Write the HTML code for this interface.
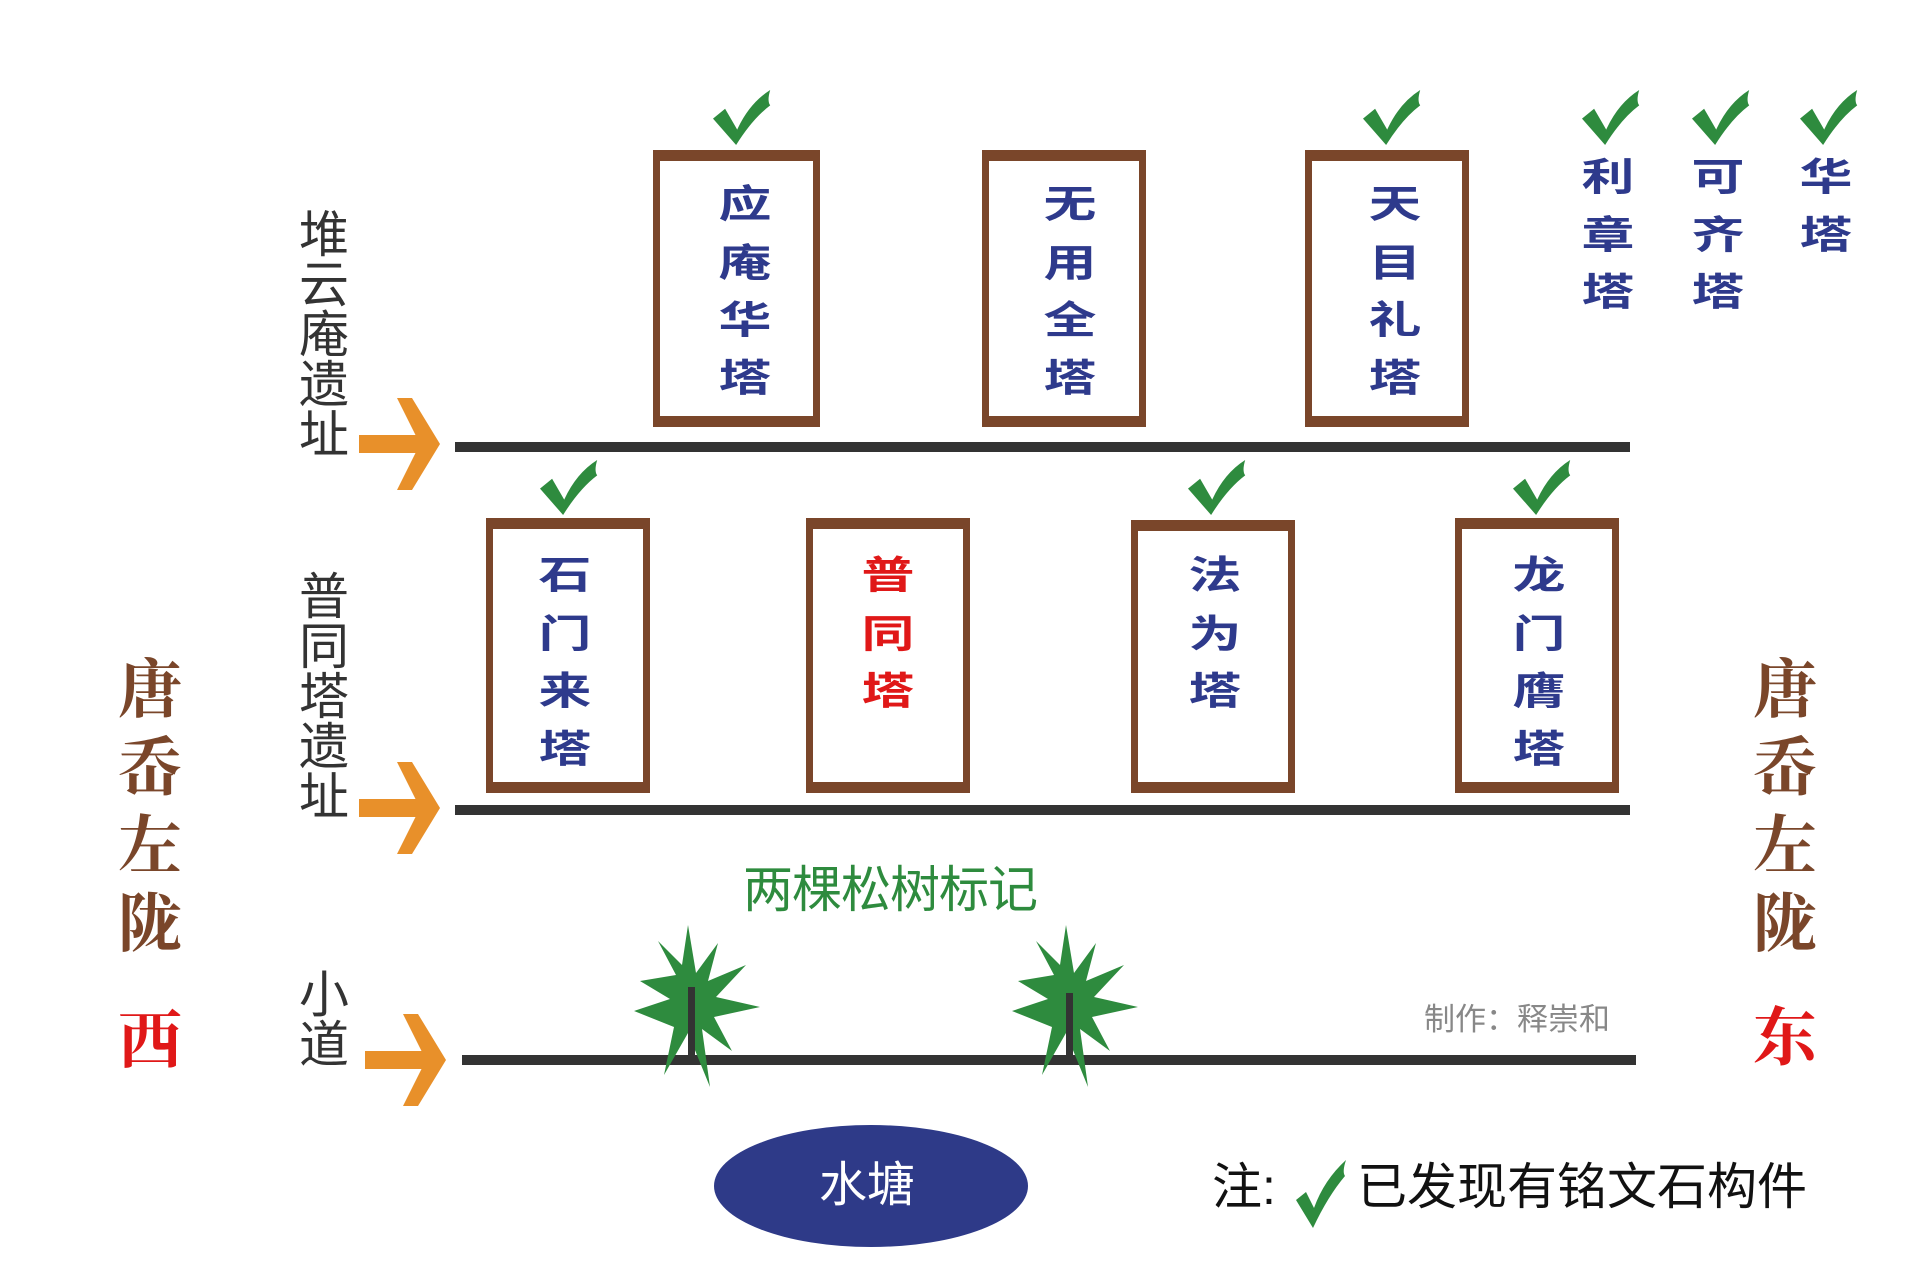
<!DOCTYPE html>
<html><head><meta charset="utf-8"><style>
html,body{margin:0;padding:0;background:#fff;}
#c{position:relative;width:1920px;height:1280px;overflow:hidden;background:#fff;}
.a{position:absolute;white-space:nowrap;line-height:1;}
.box{position:absolute;box-sizing:border-box;border-style:solid;border-color:#7a462a;border-width:11px 7px;background:#fff;}
.bc{position:absolute;width:80px;margin-left:-40px;text-align:center;font-family:"Liberation Sans","Noto Sans CJK SC",sans-serif;font-weight:700;font-size:46px;color:#2e3a8c;line-height:1;transform:scale(1.15,0.84);}
.lab{position:absolute;font-family:"Liberation Sans","Noto Sans CJK SC",sans-serif;font-size:50px;color:#333;width:52px;line-height:50px;text-align:center;}
.br{position:absolute;width:80px;text-align:center;font-family:"Liberation Serif","Noto Serif CJK SC",serif;font-weight:700;font-size:64px;color:#7a462a;line-height:78px;}
</style></head><body><div id="c">
<svg class="a" style="left:0;top:0" width="1920" height="1280" viewBox="0 0 1920 1280">
<defs>
<path id="ck0" d="M0,26 L11,17 L22,36 Q33,12 52,0 Q49,10 52,14 Q36,26 21,50 Z" fill="#2e8b3e"/>
<g id="ck"><use href="#ck0" transform="translate(-3,-4) scale(1.1)"/></g>
<g id="ar"><rect x="0" y="-9" width="64" height="18" fill="#e8902a"/><polygon points="38,-46 53,-46 81,0 53,46 38,46 61,0" fill="#e8902a"/></g>
<g id="tr"><polygon fill="#2e8b3e" points="0,-78 8,-30 30,-60 20,-22 58,-38 28,-6 72,4 26,14 44,48 14,26 22,84 0,30 -24,72 -14,24 -54,8 -18,-4 -48,-22 -12,-28 -30,-62 -6,-38"/></g>
</defs>
<rect x="455" y="442" width="1175" height="10" fill="#333"/>
<rect x="455" y="805" width="1175" height="10" fill="#333"/>
<rect x="462" y="1055" width="1174" height="10" fill="#333"/>
<use href="#ar" x="359" y="444"/>
<use href="#ar" x="359" y="808"/>
<use href="#ar" x="365" y="1060"/>
<use href="#ck" x="716" y="94"/>
<use href="#ck" x="1366" y="94"/>
<use href="#ck" x="1585" y="94"/>
<use href="#ck" x="1695" y="94"/>
<use href="#ck" x="1803" y="94"/>
<use href="#ck" x="543" y="464"/>
<use href="#ck" x="1191" y="464"/>
<use href="#ck" x="1516" y="464"/>
<use href="#tr" x="688" y="1003"/>
<use href="#tr" x="1066" y="1003"/>
<rect x="688" y="987" width="7" height="73" fill="#333"/>
<rect x="1066" y="993" width="7" height="67" fill="#333"/>
<ellipse cx="871" cy="1186" rx="157" ry="61" fill="#2e3a88"/>
<path d="M1296,1200 L1306,1192 L1314,1208 Q1324,1180 1346,1160 Q1342,1172 1345,1176 Q1328,1196 1313,1228 Z" fill="#2e8b3e"/>
</svg>

<div class="box" style="left:653px;top:150px;width:167px;height:277px"></div>
<div class="box" style="left:982px;top:150px;width:164px;height:277px"></div>
<div class="box" style="left:1305px;top:150px;width:164px;height:277px"></div>
<div class="box" style="left:486px;top:518px;width:164px;height:275px"></div>
<div class="box" style="left:806px;top:518px;width:164px;height:275px"></div>
<div class="box" style="left:1131px;top:520px;width:164px;height:273px"></div>
<div class="box" style="left:1455px;top:518px;width:164px;height:275px"></div>

<div class="bc" style="left:745px;top:181px">应</div>
<div class="bc" style="left:745px;top:240px">庵</div>
<div class="bc" style="left:745px;top:297px">华</div>
<div class="bc" style="left:745px;top:355px">塔</div>
<div class="bc" style="left:1070px;top:181px">无</div>
<div class="bc" style="left:1070px;top:240px">用</div>
<div class="bc" style="left:1070px;top:297px">全</div>
<div class="bc" style="left:1070px;top:355px">塔</div>
<div class="bc" style="left:1395px;top:181px">天</div>
<div class="bc" style="left:1395px;top:240px">目</div>
<div class="bc" style="left:1395px;top:297px">礼</div>
<div class="bc" style="left:1395px;top:355px">塔</div>

<div class="bc" style="left:1608px;top:154px">利</div>
<div class="bc" style="left:1608px;top:212px">章</div>
<div class="bc" style="left:1608px;top:269px">塔</div>
<div class="bc" style="left:1718px;top:154px">可</div>
<div class="bc" style="left:1718px;top:212px">齐</div>
<div class="bc" style="left:1718px;top:269px">塔</div>
<div class="bc" style="left:1826px;top:154px">华</div>
<div class="bc" style="left:1826px;top:212px">塔</div>

<div class="bc" style="left:565px;top:552px">石</div>
<div class="bc" style="left:565px;top:611px">门</div>
<div class="bc" style="left:565px;top:668px">来</div>
<div class="bc" style="left:565px;top:726px">塔</div>
<div class="bc" style="left:888px;top:552px;color:#e01818">普</div>
<div class="bc" style="left:888px;top:611px;color:#e01818">同</div>
<div class="bc" style="left:888px;top:668px;color:#e01818">塔</div>
<div class="bc" style="left:1215px;top:552px">法</div>
<div class="bc" style="left:1215px;top:611px">为</div>
<div class="bc" style="left:1215px;top:668px">塔</div>
<div class="bc" style="left:1539px;top:552px">龙</div>
<div class="bc" style="left:1539px;top:611px">门</div>
<div class="bc" style="left:1539px;top:668px">膺</div>
<div class="bc" style="left:1539px;top:726px">塔</div>

<div class="lab" style="left:298px;top:210px">堆<br>云<br>庵<br>遗<br>址</div>
<div class="lab" style="left:298px;top:572px">普<br>同<br>塔<br>遗<br>址</div>
<div class="lab" style="left:298px;top:970px">小<br>道</div>

<div class="br" style="left:110px;top:652px">唐<br>岙<br>左<br>陇</div>
<div class="br" style="left:110px;top:1003px;color:#e01818">西</div>
<div class="br" style="left:1745px;top:652px">唐<br>岙<br>左<br>陇</div>
<div class="br" style="left:1745px;top:1000px;color:#e01818">东</div>

<div class="a" style="left:743px;top:865px;font-family:'Liberation Sans','Noto Sans CJK SC',sans-serif;font-size:50px;color:#2e8b3e;letter-spacing:-1px">两棵松树标记</div>
<div class="a" style="left:1424px;top:1004px;font-family:'Liberation Sans','Noto Sans CJK SC',sans-serif;font-size:31px;color:#888">制作：释崇和</div>
<div class="a" style="left:819px;top:1162px;font-family:'Liberation Sans','Noto Sans CJK SC',sans-serif;font-size:48px;color:#fff">水塘</div>
<div class="a" style="left:1212px;top:1162px;font-family:'Liberation Sans','Noto Sans CJK SC',sans-serif;font-size:50px;color:#111">注:</div>
<div class="a" style="left:1357px;top:1162px;font-family:'Liberation Sans','Noto Sans CJK SC',sans-serif;font-size:50px;color:#111">已发现有铭文石构件</div>
</div></body></html>
